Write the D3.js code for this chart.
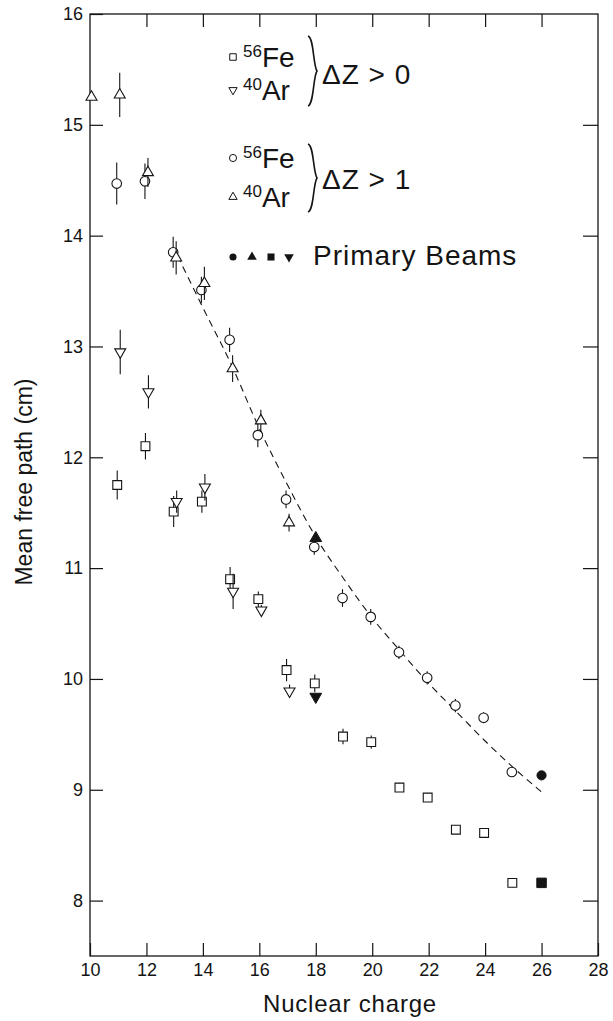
<!DOCTYPE html>
<html>
<head>
<meta charset="utf-8">
<script src="https://cdn.jsdelivr.net/npm/d3@7"></script>
<style>
  body { margin: 0; background: #fff; }
  svg { display: block; font-family: "Liberation Sans", Arial, Helvetica, sans-serif; }
</style>
</head>
<body>
<div id="chart"></div>
<script>
let wSvg = 613, hSvg = 1021;
let padL = 90, padR = 598, padT = 14, padB = 956;
let ink = "#141414";

// 56Fe, delta Z > 0 (open squares)
const feDz0Z = [11, 12, 13, 14, 15, 16, 17, 18, 19, 20, 21, 22, 23, 24, 25];
const feDz0Val = [11.75, 12.10, 11.51, 11.60, 10.90, 10.72, 10.08, 9.96, 9.48, 9.43, 9.02, 8.93, 8.64, 8.61, 8.16];
const feDz0Err = [0.13, 0.12, 0.14, 0.10, 0.11, 0.07, 0.10, 0.08, 0.07, 0.06, 0.04, 0.04, 0.04, 0.04, 0.04];

// 40Ar, delta Z > 0 (open down triangles)
const arDz0Z = [11, 12, 13, 14, 15, 16, 17];
const arDz0Val = [12.95, 12.59, 11.60, 11.73, 10.79, 10.62, 9.89];
const arDz0Err = [0.2, 0.15, 0.1, 0.12, 0.16, 0.05, 0.06];

// 56Fe, delta Z > 1 (open circles)
const feDz1Z = [11, 12, 13, 14, 15, 16, 17, 18, 19, 20, 21, 22, 23, 24, 25];
const feDz1Val = [14.47, 14.49, 13.85, 13.51, 13.06, 12.20, 11.62, 11.19, 10.73, 10.56, 10.24, 10.01, 9.76, 9.65, 9.16];
const feDz1Err = [0.19, 0.16, 0.14, 0.12, 0.11, 0.11, 0.08, 0.07, 0.08, 0.07, 0.06, 0.06, 0.06, 0.05, 0.04];

// 40Ar, delta Z > 1 (open up triangles)
const arDz1Z = [10, 11, 12, 13, 14, 15, 16, 17];
const arDz1Val = [15.25, 15.27, 14.57, 13.80, 13.57, 12.80, 12.33, 11.41];
const arDz1Err = [0, 0.2, 0.13, 0.15, 0.15, 0.12, 0.1, 0.08];

// primary beams (filled)
const beamZ = [26, 18, 26, 18];
const beamVal = [9.13, 11.27, 8.16, 9.84];
const beamShape = ["circle", "up", "square", "down"];

// dashed curve
const curveZ = [13.1, 14, 15, 16, 17, 18, 19, 20, 21, 22, 23, 24, 25, 26];
const curveVal = [13.82, 13.35, 12.84, 12.26, 11.75, 11.28, 10.9, 10.55, 10.25, 9.96, 9.7, 9.44, 9.2, 8.98];

const xTicks = [10, 12, 14, 16, 18, 20, 22, 24, 26, 28];
const yTicks = [8, 9, 10, 11, 12, 13, 14, 15, 16];

let svg = d3.select("#chart")
    .append("svg")
    .attr("width", wSvg)
    .attr("height", hSvg);

const xScale = d3.scaleLinear().domain([10, 28]).range([padL, padR]);
const yScale = d3.scaleLinear().domain([7.5, 16]).range([padB, padT]);

// frame
svg.append("rect")
    .attr("x", padL).attr("y", padT)
    .attr("width", padR - padL).attr("height", padB - padT)
    .attr("fill", "none").attr("stroke", ink).attr("stroke-width", 1.3);

function styleAxis(g, showText) {
    g.select(".domain").remove();
    g.selectAll(".tick line").attr("stroke", ink).attr("stroke-width", 1.2);
    g.selectAll(".tick text")
        .attr("fill", ink)
        .style("font-size", "18px")
        .style("font-family", "Liberation Sans, Arial, sans-serif")
        .style("display", showText ? null : "none");
}

svg.append("g")
    .attr("transform", `translate(0, ${padB})`)
    .call(d3.axisBottom(xScale).tickValues(xTicks).tickSizeInner(-13).tickSizeOuter(0).tickPadding(7))
    .call(g => styleAxis(g, true));

svg.append("g")
    .attr("transform", `translate(0, ${padT})`)
    .call(d3.axisTop(xScale).tickValues(xTicks.slice(1, -1)).tickSizeInner(-13).tickSizeOuter(0))
    .call(g => styleAxis(g, false));

svg.append("g")
    .attr("transform", `translate(${padL}, 0)`)
    .call(d3.axisLeft(yScale).tickValues(yTicks).tickSizeInner(-13).tickSizeOuter(0).tickPadding(7))
    .call(g => styleAxis(g, true));

svg.append("g")
    .attr("transform", `translate(${padR}, 0)`)
    .call(d3.axisRight(yScale).tickValues(yTicks.slice(0, -1)).tickSizeInner(-15).tickSizeOuter(0))
    .call(g => styleAxis(g, false));

// axis titles
svg.append("text")
    .attr("x", (padL + padR) / 2 + 6).attr("y", 1012)
    .attr("text-anchor", "middle")
    .style("font-size", "24px").style("letter-spacing", "0.8px").attr("fill", ink)
    .text("Nuclear charge");

svg.append("text")
    .attr("transform", "translate(32, 482) rotate(-90)")
    .attr("text-anchor", "middle")
    .style("font-size", "23px").attr("fill", ink)
    .text("Mean free path (cm)");

// dashed curve
const line = d3.line()
    .x((d, i) => xScale(curveZ[i]))
    .y(d => yScale(d))
    .curve(d3.curveMonotoneX);

svg.append("path")
    .datum(curveVal)
    .attr("d", line)
    .attr("fill", "none")
    .attr("stroke", ink)
    .attr("stroke-width", 1.1)
    .attr("stroke-dasharray", "7,5");

function symbolPath(shape, size) {
    let type = d3.symbolCircle;
    if (shape === "square") type = d3.symbolSquare;
    if (shape === "up" || shape === "down") type = d3.symbolTriangle;
    return d3.symbol().type(type).size(size)();
}

function drawSeries(zs, vals, errs, shape, size, dx) {
    const pts = zs.map((z, i) => ({ z: z, v: vals[i], e: errs[i] }));
    const g = svg.append("g");
    g.selectAll("line")
        .data(pts.filter(d => d.e > 0))
        .join("line")
        .attr("x1", d => xScale(d.z) + dx)
        .attr("x2", d => xScale(d.z) + dx)
        .attr("y1", d => yScale(d.v + d.e))
        .attr("y2", d => yScale(d.v - d.e))
        .attr("stroke", ink)
        .attr("stroke-width", 1.1);
    g.selectAll("path")
        .data(pts)
        .join("path")
        .attr("d", symbolPath(shape, size))
        .attr("transform", d => `translate(${xScale(d.z) + dx}, ${yScale(d.v)})` + (shape === "down" ? " rotate(180)" : ""))
        .attr("fill", "#fff")
        .attr("stroke", ink)
        .attr("stroke-width", 1.1);
}

drawSeries(feDz0Z, feDz0Val, feDz0Err, "square", 78, -1);
drawSeries(arDz0Z, arDz0Val, arDz0Err, "down", 52, 2);
drawSeries(feDz1Z, feDz1Val, feDz1Err, "circle", 72, -1.5);
drawSeries(arDz1Z, arDz1Val, arDz1Err, "up", 52, 1.5);

// primary beams
svg.append("g")
    .selectAll("path")
    .data(beamZ.map((z, i) => ({ z: z, v: beamVal[i], s: beamShape[i] })))
    .join("path")
    .attr("d", d => symbolPath(d.s, d.s === "circle" ? 66 : d.s === "square" ? 90 : 60))
    .attr("transform", d => `translate(${xScale(d.z)}, ${yScale(d.v)})` + (d.s === "down" ? " rotate(180)" : ""))
    .attr("fill", ink)
    .attr("stroke", ink);

// legend
const legend = svg.append("g");
const legendRows = [
    { shape: "square", iso: "56", el: "Fe", y: 67 },
    { shape: "down", iso: "40", el: "Ar", y: 100 },
    { shape: "circle", iso: "56", el: "Fe", y: 168 },
    { shape: "up", iso: "40", el: "Ar", y: 207 }
];
legendRows.forEach(r => {
    legend.append("path")
        .attr("d", symbolPath(r.shape, r.shape === "circle" ? 40 : r.shape === "square" ? 42 : 30))
        .attr("transform", `translate(233, ${r.y - 10})` + (r.shape === "down" ? " rotate(180)" : ""))
        .attr("fill", "#fff").attr("stroke", ink).attr("stroke-width", 1);
    const t = legend.append("text")
        .attr("x", 243).attr("y", r.y)
        .attr("fill", ink)
        .style("font-size", "28px");
    t.append("tspan").attr("dy", -10).style("font-size", "17px").text(r.iso);
    t.append("tspan").attr("dy", 10).text(r.el);
});

function brace(y0, y1) {
    const x0 = 308, ym = (y0 + y1) / 2;
    return `M${x0},${y0} C${x0 + 6},${y0 + 2} ${x0 + 5},${ym - 6} ${x0 + 9},${ym}` +
        ` C${x0 + 5},${ym + 6} ${x0 + 6},${y1 - 2} ${x0},${y1}`;
}
legend.append("path").attr("d", brace(36, 106))
    .attr("fill", "none").attr("stroke", ink).attr("stroke-width", 1.6);
legend.append("path").attr("d", brace(144, 212))
    .attr("fill", "none").attr("stroke", ink).attr("stroke-width", 1.6);

legend.append("text").attr("x", 322).attr("y", 84)
    .attr("fill", ink).style("font-size", "28px").style("letter-spacing", "1px").text("ΔZ > 0");
legend.append("text").attr("x", 322).attr("y", 189)
    .attr("fill", ink).style("font-size", "28px").style("letter-spacing", "1px").text("ΔZ > 1");

const beamKey = ["circle", "up", "square", "down"];
const beamKeyX = [233, 252, 271, 289];
legend.selectAll("path.key")
    .data(beamKey)
    .join("path")
    .attr("class", "key")
    .attr("d", d => symbolPath(d, d === "circle" ? 40 : d === "square" ? 50 : 40))
    .attr("transform", (d, i) => `translate(${beamKeyX[i]}, 257)` + (d === "down" ? " rotate(180)" : ""))
    .attr("fill", ink);

legend.append("text").attr("x", 313).attr("y", 265)
    .attr("fill", ink).style("font-size", "28px").style("letter-spacing", "1px").text("Primary Beams");
</script>
</body>
</html>
